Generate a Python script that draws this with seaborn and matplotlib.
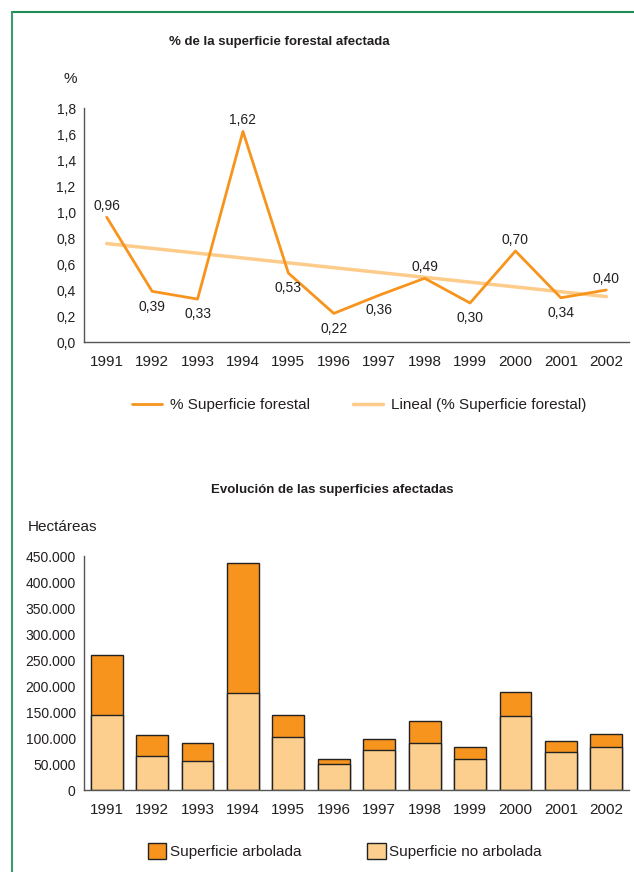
import matplotlib
matplotlib.use("Agg")
import matplotlib.pyplot as plt
from matplotlib.patches import Patch
from matplotlib.lines import Line2D
from matplotlib.ticker import FuncFormatter, MultipleLocator
import seaborn as sns
import pandas as pd
import numpy as np

years = ["1991", "1992", "1993", "1994", "1995", "1996",
         "1997", "1998", "1999", "2000", "2001", "2002"]
pct_forest = [0.96, 0.39, 0.33, 1.62, 0.53, 0.22, 0.36, 0.49, 0.30, 0.70, 0.34, 0.40]
total_ha = [260500, 105000, 89500, 437500, 143500, 60000,
            98500, 133000, 82500, 189000, 93500, 107500]
no_arbolada_ha = [143500, 65000, 56000, 187500, 101000, 50000,
                  77500, 90000, 59000, 143000, 74000, 83000]
# data label above or below its point
label_side = ["up", "down", "down", "up", "down", "down",
              "down", "up", "down", "up", "down", "up"]

ORANGE = "#F7941D"
LIGHT = "#FDCF8E"
TREND = "#FDCB8A"
GREEN = "#1E8C55"
TXT = "#231F20"

sns.set_style("white")
plt.rcParams["font.family"] = ["Liberation Sans", "DejaVu Sans"]
plt.rcParams["text.color"] = TXT

df = pd.DataFrame({"year": years, "pct": pct_forest,
                   "total": total_ha, "no_arb": no_arbolada_ha})
idx = np.arange(len(years))
slope, intercept = np.polyfit(idx, df["pct"], 1)
df["trend"] = slope * idx + intercept

fig = plt.figure(figsize=(6.34, 8.72), dpi=100)
W, H = 634, 872

# green frame (top and left rules)
fig.add_artist(Line2D([12 / W, 1.0], [1 - 12 / H, 1 - 12 / H], color=GREEN, lw=1.5))
fig.add_artist(Line2D([12 / W, 12 / W], [0, 1 - 12 / H], color="#3C9A72", lw=1.5))


def style_axes(ax):
    sns.despine(ax=ax)
    for s in ("left", "bottom"):
        ax.spines[s].set_color("#555555")
        ax.spines[s].set_linewidth(1)
    ax.set_xlim(-0.5, len(years) - 0.5)
    ax.set_xticks(idx)
    ax.set_xticklabels(years)
    ax.set_xticks(list(idx - 0.5) + [len(years) - 0.5], minor=True)
    ax.tick_params(axis="x", which="major", length=0, labelsize=11, pad=9, colors=TXT)
    ax.tick_params(axis="x", which="minor", length=5, width=1, color="#555555", direction="out")
    ax.tick_params(axis="y", length=5, width=1, color="#555555", labelsize=10, pad=1, colors=TXT)
    ax.set_xlabel("")
    ax.set_ylabel("")


# ---- top chart: % of forest surface affected
ax1 = fig.add_axes([84 / W, 1 - 342 / H, 545 / W, 234 / H])
sns.lineplot(x=idx, y=df["pct"], ax=ax1, color=ORANGE, lw=2, sort=False)
sns.lineplot(x=idx, y=df["trend"], ax=ax1, color=TREND, lw=2.5, sort=False)
ax1.lines[0].set_zorder(3)
ax1.set_ylim(0, 1.8)
ax1.yaxis.set_major_locator(MultipleLocator(0.2))
ax1.yaxis.set_major_formatter(FuncFormatter(lambda v, p: f"{v:.1f}".replace(".", ",")))
style_axes(ax1)
for i, (v, side) in enumerate(zip(pct_forest, label_side)):
    off = 8 if side == "up" else -11
    ax1.annotate(f"{v:.2f}".replace(".", ","), (i, v), xytext=(0, off),
                 textcoords="offset points", ha="center", va="center", fontsize=10)

fig.text(279 / W, 1 - 42 / H, "% de la superficie forestal afectada",
         ha="center", va="center", fontsize=9.5, fontweight="bold")
fig.text(70 / W, 1 - 79 / H, "%", ha="center", va="center", fontsize=11)

h1 = [Line2D([], [], color=ORANGE, lw=2), Line2D([], [], color=TREND, lw=2.5)]
fig.legend(h1, ["% Superficie forestal", "Lineal (% Superficie forestal)"],
           loc="center", bbox_to_anchor=(359 / W, 1 - 405 / H), ncol=2,
           frameon=False, fontsize=11, handlelength=2.0, handletextpad=0.5,
           columnspacing=2.8)

# ---- bottom chart: hectares affected
ax2 = fig.add_axes([84 / W, 1 - 790 / H, 545 / W, 234 / H])
sns.barplot(data=df, x="year", y="total", ax=ax2, color=ORANGE, saturation=1,
            width=0.7, edgecolor="#222222", linewidth=1)
sns.barplot(data=df, x="year", y="no_arb", ax=ax2, color=LIGHT, saturation=1,
            width=0.7, edgecolor="#222222", linewidth=1)
ax2.set_ylim(0, 450000)
ax2.yaxis.set_major_locator(MultipleLocator(50000))
ax2.yaxis.set_major_formatter(FuncFormatter(lambda v, p: f"{int(v):,}".replace(",", ".")))
style_axes(ax2)

fig.text(332 / W, 1 - 490 / H, "Evolución de las superficies afectadas",
         ha="center", va="center", fontsize=9.5, fontweight="bold")
fig.text(28 / W, 1 - 527 / H, "Hectáreas", ha="left", va="center", fontsize=11)

h2 = [Patch(facecolor=ORANGE, edgecolor="#222222", lw=1),
      Patch(facecolor=LIGHT, edgecolor="#222222", lw=1)]
fig.legend(h2, ["Superficie arbolada", "Superficie no arbolada"],
           loc="center", bbox_to_anchor=(345 / W, 1 - 851 / H), ncol=2,
           frameon=False, fontsize=11, handlelength=1.2, handleheight=1.2,
           handletextpad=0.25, columnspacing=4.3)

fig.savefig("out.png", dpi=100)
